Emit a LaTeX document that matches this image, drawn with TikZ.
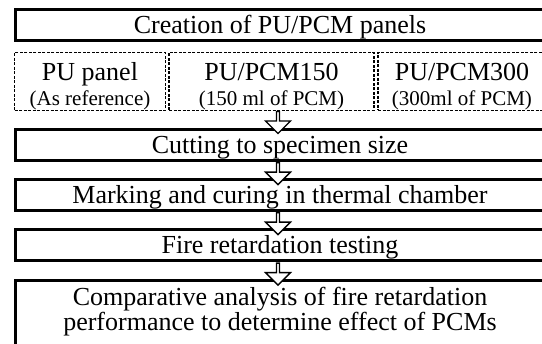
\documentclass[tikz,border=0pt]{standalone}
\usepackage{fontspec}
\setmainfont{Liberation Serif}
\usetikzlibrary{shapes.arrows}
\newcommand{\stagesize}{\fontsize{26}{25}\selectfont}
\newcommand{\notesize}{\fontsize{21}{20}\selectfont}
\begin{document}
\begin{tikzpicture}[x=1pt, y=-1pt,
    stagebox/.style={draw, line width=3pt, minimum width=530pt, minimum height=31pt,
      inner sep=0pt, text height=20pt, text depth=3pt, font=\stagesize},
    panelbox/.style={draw, line width=1.2pt, dash pattern=on 3pt off 1.5pt,
      minimum height=53pt, inner sep=0pt, align=center, font=\stagesize},
    flowarrow/.style={single arrow, draw, fill=white, line width=1.3pt,
      shape border rotate=270, minimum height=22pt, minimum width=25pt,
      single arrow head extend=5pt, inner sep=0pt, anchor=tail}]
  \useasboundingbox (0,0) rectangle (542,344);
  \node [stagebox] (creation) at (280,25) {Creation of PU/PCM panels};
  % the three panel variants
  \node [panelbox, minimum width=151pt] (pupanel) at (90,81.5)
    {\rule{0pt}{28pt}PU panel\\{\notesize (As reference)}};
  \node [panelbox, minimum width=205pt] (pcm150) at (271.5,81.5)
    {\rule{0pt}{28pt}PU/PCM150\\{\notesize (150 ml of PCM)}};
  \node [panelbox, minimum width=168pt] (pcm300) at (462,81.5)
    {\rule{0pt}{28pt}PU/PCM300\\{\notesize (300ml of PCM)}};
  \node [stagebox] (cutting) at (280,145) {Cutting to specimen size};
  \node [stagebox] (marking) at (280,195) {Marking and curing in thermal chamber};
  \node [stagebox] (firetest) at (280,245.5) {Fire retardation testing};
  \node [stagebox, anchor=north, align=center, inner ysep=7pt, text height=, text depth=60pt] (analysis) at (280,279)
    {Comparative analysis of fire retardation\\performance to determine effect of PCMs};
  % block arrows between stages
  \coordinate (axis) at (278,0);
  \node [flowarrow] (arrowa) at (axis |- pcm150.south) {};
  \node [flowarrow] (arrowb) at (axis |- cutting.south) {};
  \node [flowarrow] (arrowc) at (axis |- marking.south) {};
  \node [flowarrow] (arrowd) at (axis |- firetest.south) {};
\end{tikzpicture}
\end{document}
